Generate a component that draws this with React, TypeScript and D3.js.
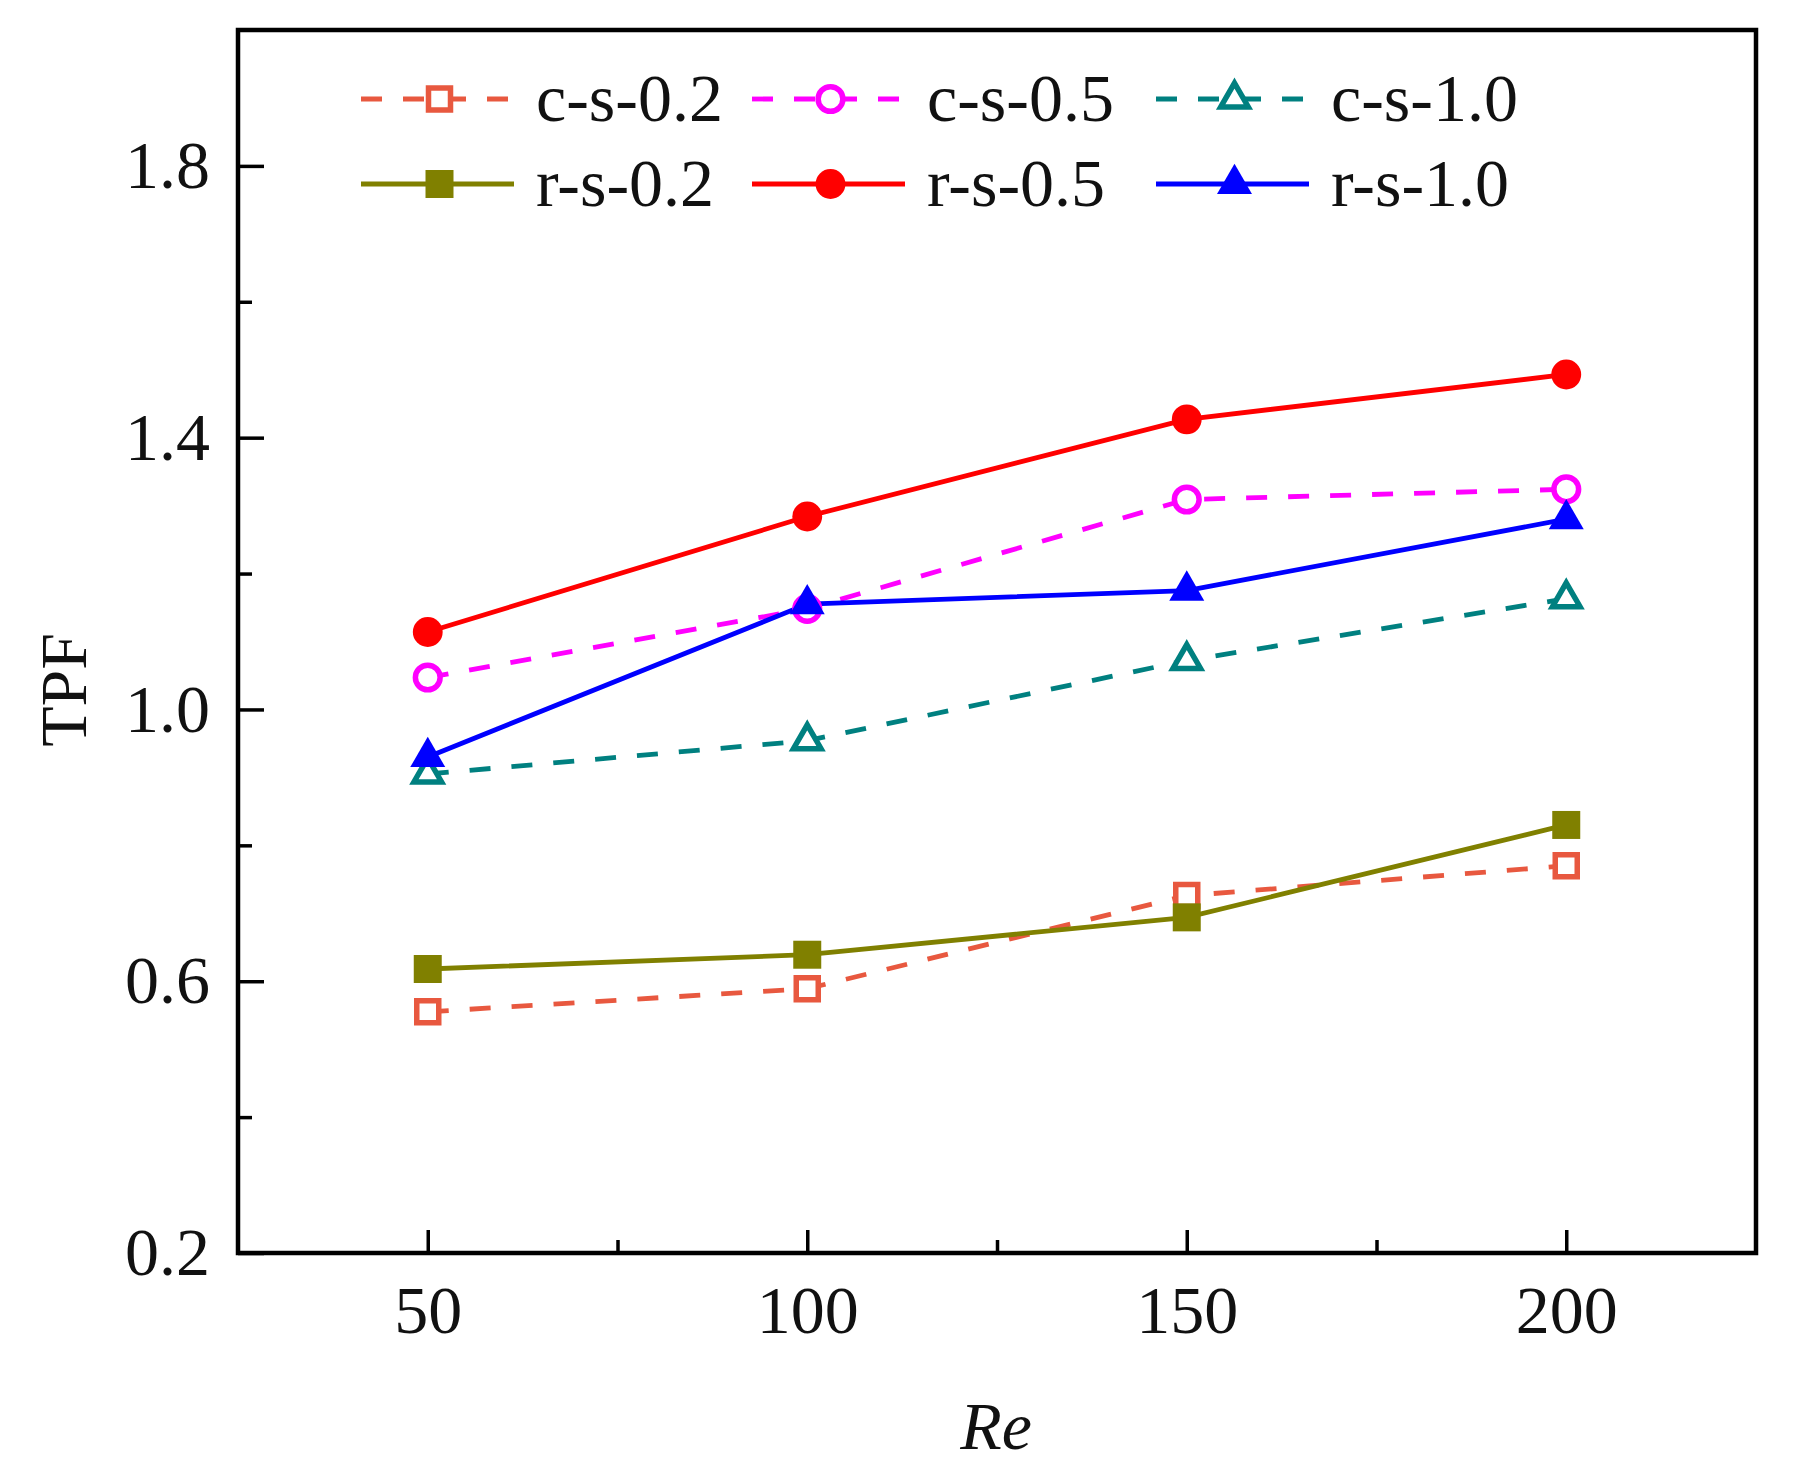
import React, { useRef, useEffect } from "react";
import * as d3 from "d3";

// Re values (x) and TPF for each case
const reValues = [50, 100, 150, 200];
const cs02 = [0.555, 0.589, 0.726, 0.77];
const cs05 = [1.047, 1.148, 1.309, 1.324];
const cs10 = [0.905, 0.954, 1.072, 1.163];
const rs02 = [0.618, 0.639, 0.694, 0.83];
const rs05 = [1.114, 1.284, 1.427, 1.493];
const rs10 = [0.93, 1.155, 1.175, 1.28];

const seriesNames = ["c-s-0.2", "c-s-0.5", "c-s-1.0", "r-s-0.2", "r-s-0.5", "r-s-1.0"];
const seriesValues = [cs02, cs05, cs10, rs02, rs05, rs10];

const xMajorTicks = [50, 100, 150, 200];
const xMinorTicks = [75, 125, 175];
const yMajorTicks = [0.2, 0.6, 1.0, 1.4, 1.8];
const yMinorTicks = [0.4, 0.8, 1.2, 1.6];

const xLabel = "Re";
const yLabel = "TPF";

type Style = {
  color: string;
  dashed: boolean;
  shape: d3.SymbolType;
  filled: boolean;
  size: number;
};

const styles: Style[] = [
  { color: "#E8583F", dashed: true, shape: d3.symbolSquare, filled: false, size: 484 },
  { color: "#FF00FF", dashed: true, shape: d3.symbolCircle, filled: false, size: 480 },
  { color: "#008080", dashed: true, shape: d3.symbolTriangle, filled: false, size: 330 },
  { color: "#808000", dashed: false, shape: d3.symbolSquare, filled: true, size: 784 },
  { color: "#FF0000", dashed: false, shape: d3.symbolCircle, filled: true, size: 700 },
  { color: "#0000FF", dashed: false, shape: d3.symbolTriangle, filled: true, size: 530 },
];

const FONT = "'Liberation Serif', 'Times New Roman', serif";

export default function App() {
  const ref = useRef<SVGSVGElement>(null);

  useEffect(() => {
    if (!ref.current) return;
    const W = 1794;
    const H = 1481;
    const margin = { top: 30, right: 38, bottom: 228, left: 238 };

    const svg = d3.select(ref.current);
    svg.selectAll("*").remove();
    svg.attr("width", W).attr("height", H);

    const x = d3.scaleLinear().domain([25, 225]).range([margin.left, W - margin.right]);
    const y = d3.scaleLinear().domain([0.2, 2.0]).range([H - margin.bottom, margin.top]);

    const bottom = H - margin.bottom;

    // major/minor ticks (inward)
    const xAxis = svg.append("g")
      .attr("transform", `translate(0,${bottom})`)
      .call(d3.axisBottom(x).tickValues(xMajorTicks).tickSize(-23).tickPadding(32).tickFormat(d3.format("d")));
    const xMinor = svg.append("g")
      .attr("transform", `translate(0,${bottom})`)
      .call(d3.axisBottom(x).tickValues(xMinorTicks).tickSize(-13).tickFormat(() => ""));
    const yAxis = svg.append("g")
      .attr("transform", `translate(${margin.left},0)`)
      .call(d3.axisLeft(y).tickValues(yMajorTicks).tickSize(-26).tickPadding(28).tickFormat(d3.format(".1f")));
    const yMinor = svg.append("g")
      .attr("transform", `translate(${margin.left},0)`)
      .call(d3.axisLeft(y).tickValues(yMinorTicks).tickSize(-14).tickFormat(() => ""));

    [xAxis, xMinor, yAxis, yMinor].forEach(g => {
      g.select(".domain").remove();
      g.selectAll("line").attr("stroke", "#000").attr("stroke-width", 3.5);
      g.selectAll("text")
        .attr("fill", "#111")
        .style("font-family", FONT)
        .style("font-size", "68px");
    });

    // frame
    svg.append("rect")
      .attr("x", margin.left)
      .attr("y", margin.top)
      .attr("width", W - margin.right - margin.left)
      .attr("height", bottom - margin.top)
      .attr("fill", "none")
      .attr("stroke", "#000")
      .attr("stroke-width", 4.5);

    // series lines
    const line = d3.line<number>()
      .x((_, i) => x(reValues[i]))
      .y(d => y(d));

    seriesValues.forEach((vals, si) => {
      const st = styles[si];
      svg.append("path")
        .datum(vals)
        .attr("fill", "none")
        .attr("stroke", st.color)
        .attr("stroke-width", 4.8)
        .attr("stroke-dasharray", st.dashed ? "21,21" : null)
        .attr("d", line);
    });

    // markers (drawn per series so r-series sit above c-series)
    seriesValues.forEach((vals, si) => {
      const st = styles[si];
      const sym = d3.symbol().type(st.shape).size(st.size);
      svg.append("g")
        .selectAll("path")
        .data(vals)
        .join("path")
        .attr("transform", (d, i) => `translate(${x(reValues[i])},${y(d)})`)
        .attr("d", sym)
        .attr("fill", st.filled ? st.color : "#fff")
        .attr("stroke", st.filled ? "none" : st.color)
        .attr("stroke-width", st.filled ? 0 : 5.5);
    });

    // legend
    const legendCols = [361, 752, 1156];
    const legendRows = [99, 184];
    const lineLen = 153;
    const legend = svg.append("g");
    seriesNames.forEach((name, si) => {
      const st = styles[si];
      const cx = legendCols[si % 3];
      const cy = legendRows[Math.floor(si / 3)];
      legend.append("line")
        .attr("x1", cx)
        .attr("x2", cx + lineLen)
        .attr("y1", cy)
        .attr("y2", cy)
        .attr("stroke", st.color)
        .attr("stroke-width", 4.8)
        .attr("stroke-dasharray", st.dashed ? "21,21" : null);
      legend.append("path")
        .attr("transform", `translate(${cx + lineLen / 2 + 2},${cy})`)
        .attr("d", d3.symbol().type(st.shape).size(st.size)())
        .attr("fill", st.filled ? st.color : "#fff")
        .attr("stroke", st.filled ? "none" : st.color)
        .attr("stroke-width", st.filled ? 0 : 5.5);
      legend.append("text")
        .attr("x", cx + lineLen + 22)
        .attr("y", cy)
        .attr("dy", "0.33em")
        .attr("fill", "#111")
        .style("font-family", FONT)
        .style("font-size", "68px")
        .text(name);
    });

    // axis titles
    svg.append("text")
      .attr("x", 996)
      .attr("y", 1449)
      .attr("text-anchor", "middle")
      .attr("fill", "#111")
      .style("font-family", FONT)
      .style("font-style", "italic")
      .style("font-size", "68px")
      .text(xLabel);

    svg.append("text")
      .attr("transform", `translate(86,690) rotate(-90)`)
      .attr("text-anchor", "middle")
      .attr("fill", "#111")
      .style("font-family", FONT)
      .style("font-size", "66px")
      .text(yLabel);
  }, []);

  return (
    <div style={{ position: "absolute", left: 0, top: 0, background: "#fff" }}>
      <svg ref={ref} style={{ display: "block" }} />
    </div>
  );
}
